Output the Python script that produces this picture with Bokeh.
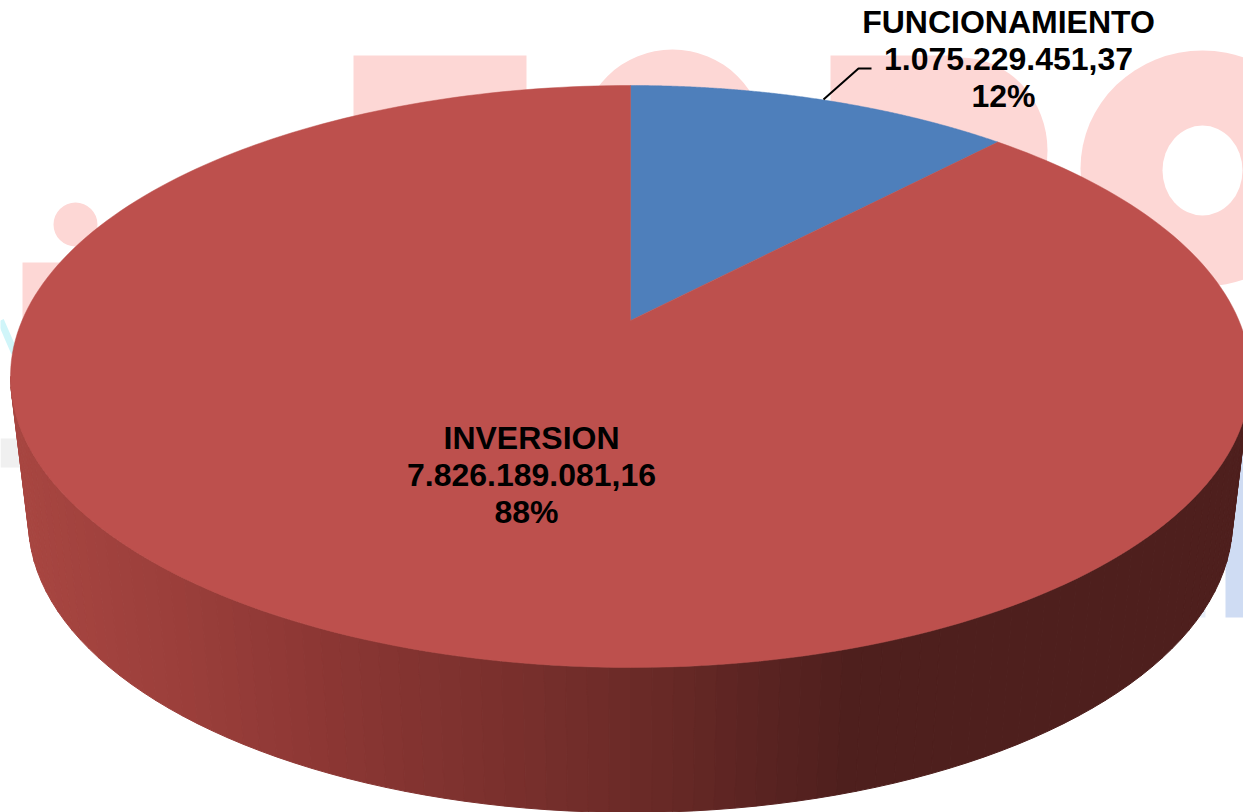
import numpy as np
from bokeh.plotting import figure
from bokeh.models import Range1d
from bokeh.core.properties import value
from bokeh.embed import file_html
from bokeh.resources import INLINE

# ---- chart data
categories = ["FUNCIONAMIENTO", "INVERSION"]
amounts = [1075229451.37, 7826189081.16]
amount_labels = ["1.075.229.451,37", "7.826.189.081,16"]
percent_labels = ["12%", "88%"]
slice_colors = ["#4e7fbb", "#bd504d"]

# ---- side shading of the disc (x on page, colour)
shade_x = [20, 170, 343, 600, 850, 1250]
shade_rgb = [(168, 70, 65), (156, 63, 59), (138, 54, 51), (112, 44, 41), (78, 31, 29), (78, 31, 29)]

WATERMARK = "#fdd7d5"

W, H = 1243, 812
p = figure(width=W, height=H, output_backend="svg", toolbar_location=None,
           x_range=Range1d(0, W), y_range=Range1d(H, 0),
           x_axis_location=None, y_axis_location=None, min_border=0,
           background_fill_color="white", border_fill_color="white")
p.outline_line_color = None
p.grid.visible = False

# ---- faded watermark behind the chart
p.quad(left=[353, 22, 830], right=[526, 62, 960], top=[55, 262, 55], bottom=[300, 470, 250],
       fill_color=WATERMARK, line_color=None)
p.ellipse(x=[672, 960, 75, 1202], y=[140, 150, 224, 168], width=[184, 174, 44, 244], height=[182, 186, 44, 236],
          fill_color=WATERMARK, line_color=None)
p.ellipse(x=[1202], y=[170], width=[80], height=[90], fill_color="white", line_color=None)
p.line([0, 14], [320, 352], line_color="#d0f5f9", line_width=7)
p.quad(left=[0], right=[40], top=[438], bottom=[467], fill_color="#f0f0f0", line_color=None)
p.quad(left=[1225, 1198], right=[1243, 1205], top=[440, 590], bottom=[617, 617],
       fill_color=["#cfdcf3", "#e8eef8"], line_color=None)

# ---- disc geometry: projected circle
cx, cy, a, b = 630, 376, 620, 291
cx2, cy2, a2, b2 = 630, 521, 602, 291
d = 56 / 291  # projected centre sits above the ellipse centre


def rim(theta):
    """Clockwise angle from 12 o'clock on the round pie -> page position."""
    sx, sy = np.sin(theta), np.cos(theta)
    den = 1 + d * sy
    return cx + a * sx * np.sqrt(1 - d * d) / den, cy - b * (sy + d) / den


# ---- side wall
phi = np.linspace(np.pi, 0, 91)
xs, ys, cols = [], [], []
for i in range(len(phi) - 1):
    p0, p1 = phi[i], phi[i + 1]
    qx = [cx + a * np.cos(p0), cx + a * np.cos(p1), cx2 + a2 * np.cos(p1), cx2 + a2 * np.cos(p0)]
    qy = [cy + b * np.sin(p0), cy + b * np.sin(p1), cy2 + b2 * np.sin(p1), cy2 + b2 * np.sin(p0)]
    xm = sum(qx) / 4
    rgb = [int(round(np.interp(xm, shade_x, [c[k] for c in shade_rgb]))) for k in range(3)]
    xs.append(qx)
    ys.append(qy)
    cols.append("#%02x%02x%02x" % tuple(rgb))
p.patches(xs, ys, fill_color=cols, line_color=cols, line_width=1)

# ---- top surface, one wedge per category
fractions = np.array(amounts) / sum(amounts)
edges = np.concatenate([[0], np.cumsum(fractions)]) * 2 * np.pi
apex = (cx, cy - b * d)
for i in range(len(categories)):
    t = np.linspace(edges[i], edges[i + 1], 240)
    rx, ry = rim(t)
    p.patch(np.r_[apex[0], rx], np.r_[apex[1], ry], fill_color=slice_colors[i],
            line_color=slice_colors[i], line_width=0.5)

# ---- leader line
p.line([823, 858, 871], [99, 68, 68], line_color="black", line_width=2)

# ---- labels
FONT = value("Liberation Sans")
label_cx = [1008, 531]
label_top = [21, 437]
step = 37
line_shift = [0, 0, -5]
for i in range(len(categories)):
    lines = [categories[i], amount_labels[i], percent_labels[i]]
    p.text(x=[label_cx[i] + s for s in line_shift], y=[label_top[i] + k * step for k in range(3)], text=lines,
           text_font=FONT, text_font_style="bold", text_font_size="32px", text_color="black",
           text_align="center", text_baseline="middle")

html = file_html(p, INLINE).replace("<body>", '<body style="margin:0">')
open("out.html", "w").write(html)
